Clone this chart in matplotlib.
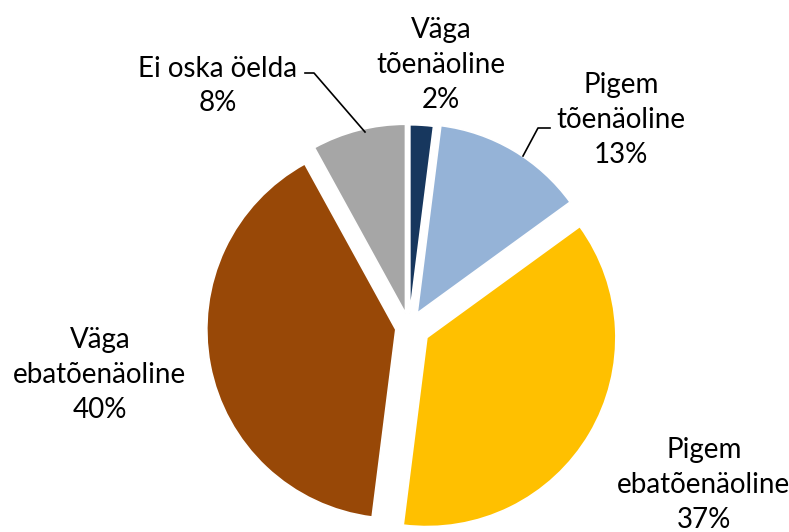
import matplotlib.pyplot as plt

# Andmed
kategooriad = ["Väga\ntõenäoline", "Pigem\ntõenäoline", "Pigem\nebatõenäoline",
               "Väga\nebatõenäoline", "Ei oska öelda"]
osakaal = [2, 13, 37, 40, 8]
varvid = ["#17375E", "#95B3D7", "#FFC000", "#984807", "#A6A6A6"]
valja = [0.07, 0.085, 0.11, 0.071, 0.075]

W, H = 789, 532
cx, cy, r = 409, 327, 189  # pie centre / radius in pixels


def px(x, y):
    # pildi pikslid -> andmekoordinaadid
    return (x - cx) / r, (cy - y) / r


fig = plt.figure(figsize=(W / 100, H / 100), dpi=100)
ax = fig.add_axes([0, 0, 1, 1])
ax.pie(osakaal, colors=varvid, startangle=90, counterclock=False, explode=valja,
       radius=1, wedgeprops=dict(edgecolor="white", linewidth=1.2))
ax.set_xlim(-cx / r, (W - cx) / r)
ax.set_ylim(-(H - cy) / r, cy / r)
ax.set_aspect("equal")
ax.axis("off")

# sildid
sildi_kohad = [(441, 65), (621, 120), (704, 485), (100, 375), (218, 86)]
for nimi, v, (x, y) in zip(kategooriad, osakaal, sildi_kohad):
    ax.text(*px(x, y), f"{nimi}\n{v}%", ha="center", va="center",
            fontsize=20, family="Lato", linespacing=1.42, color="black")

# juhtjooned
for pts in ([(305, 73), (314, 73), (365, 132)], [(550, 128), (538, 128), (523, 156)]):
    xs, ys = zip(*[px(*p) for p in pts])
    ax.plot(xs, ys, color="black", lw=1.2)

fig.savefig("out.png", dpi=100)
